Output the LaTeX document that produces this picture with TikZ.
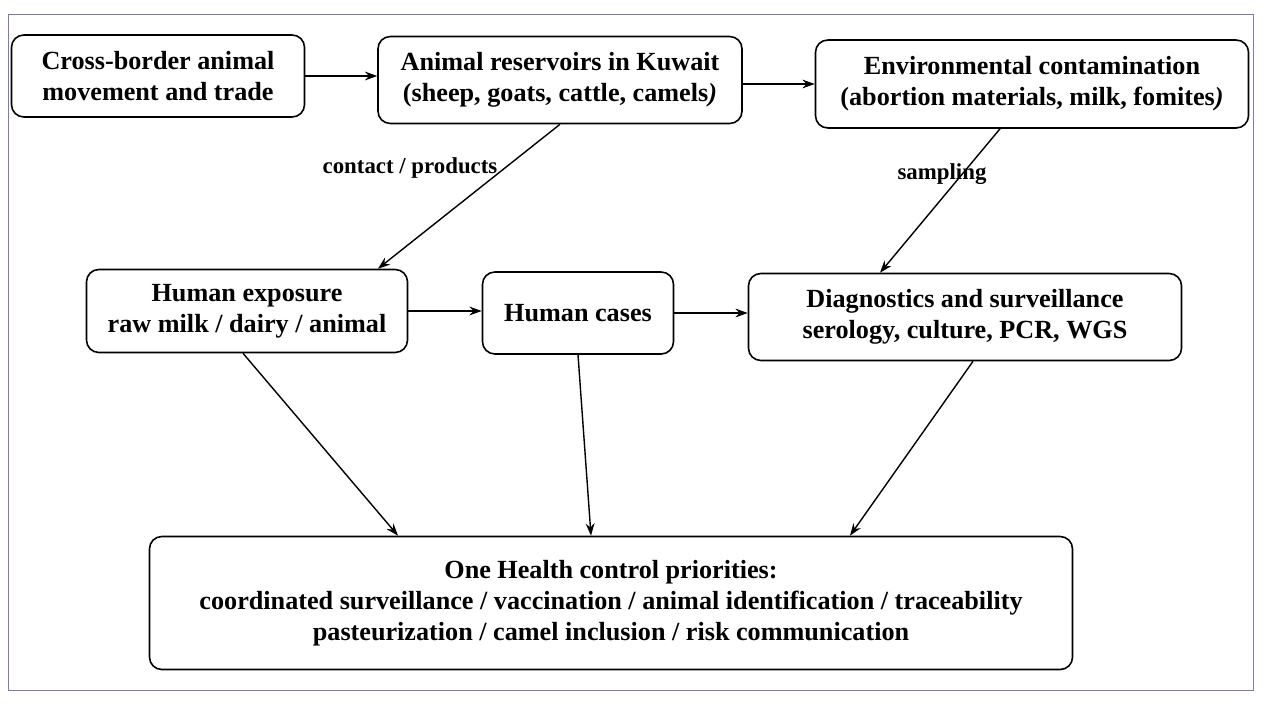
\documentclass[tikz,border=0pt]{standalone}
\usepackage{fontspec}
\setmainfont{Liberation Serif}
\usetikzlibrary{arrows.meta}
\begin{document}
\begin{tikzpicture}[x=0.02cm,y=-0.02cm,font=\bfseries]
    \tikzstyle{box}=[draw,rounded corners=7pt,align=center,font=\fontsize{14.9pt}{17.5pt}\selectfont\bfseries,line width=0.9pt]
    \tikzstyle{flow}=[-{Stealth[length=7pt,width=5pt]},line width=0.8pt]
    \tikzstyle{lbl}=[font=\fontsize{13pt}{15pt}\selectfont\bfseries]
    \useasboundingbox (0,0) rectangle (1280,720);
    \draw[color=blue!30!gray!80,line width=0.5pt] (8,14) rectangle (1253,690);
    \node[box,minimum width=293*0.02cm,minimum height=82*0.02cm] (move) at (158,76) {Cross-border animal\\movement and trade};
    \node[box,minimum width=364*0.02cm,minimum height=87*0.02cm] (res) at (560,80) {Animal reservoirs in Kuwait\\(sheep, goats, cattle, camels\textit{)}};
    \node[box,minimum width=433*0.02cm,minimum height=88*0.02cm] (env) at (1032,84) {Environmental contamination\\(abortion materials, milk, fomites\textit{)}};
    \node[box,minimum width=321*0.02cm,minimum height=83*0.02cm] (expo) at (247,311) {Human exposure\\raw milk / dairy / animal};
    \node[box,minimum width=191*0.02cm,minimum height=82*0.02cm] (cases) at (578,313) {Human cases};
    \node[box,minimum width=433*0.02cm,minimum height=87*0.02cm] (diag) at (965,317) {Diagnostics and surveillance\\serology, culture, PCR, WGS};
    \node[box,minimum width=923*0.02cm,minimum height=133*0.02cm] (ctrl) at (611,603) {One Health control priorities:\\coordinated surveillance / vaccination / animal identification / traceability\\pasteurization / camel inclusion / risk communication};
    \draw[flow] (move.east) -- (move.east -| res.west);
    \draw[flow] (res.east |- env.west) -- (env.west);
    \draw[flow] (res.south) -- ([xshift=2.62cm]expo.north);
      \node[lbl] (lcp) at (410,168) {contact / products};
    \draw[flow] ([xshift=-0.64cm]env.south) -- ([xshift=-1.7cm]diag.north);
      \node[lbl] (lsa) at (942,174) {sampling};
    \draw[flow] (expo.east) -- (expo.east -| cases.west);
    \draw[flow] (cases.east) -- (cases.east -| diag.west);
    \draw[flow] ([xshift=-0.08cm]expo.south) -- ([xshift=-4.26cm]ctrl.north);
    \draw[flow] (cases.south) -- ([xshift=-0.4cm]ctrl.north);
    \draw[flow] ([xshift=0.16cm]diag.south) -- ([xshift=4.78cm]ctrl.north);
  \end{tikzpicture}
\end{document}
